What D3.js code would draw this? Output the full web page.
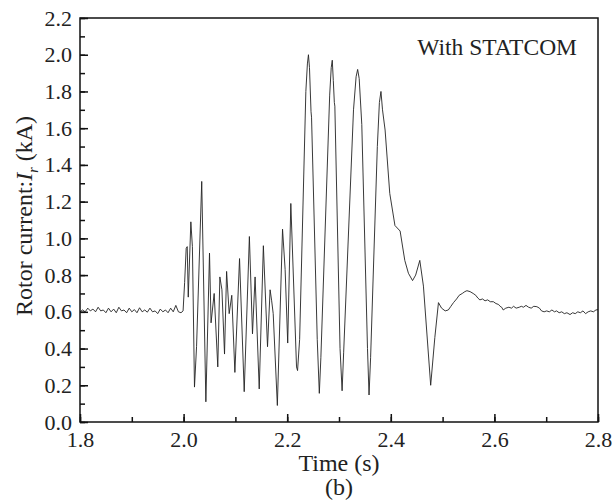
<!DOCTYPE html>
<html><head><meta charset="utf-8">
<script src="https://cdn.jsdelivr.net/npm/d3@7"></script>
<style>body{margin:0;background:#fff}svg{display:block}
svg text{font-family:"Liberation Serif","Times New Roman",Times,"Nimbus Roman","DejaVu Serif",serif !important}</style>
</head><body>
<script>
const xTicks = [1.8, 2.0, 2.2, 2.4, 2.6, 2.8];
const yTicks = [0.0, 0.2, 0.4, 0.6, 0.8, 1.0, 1.2, 1.4, 1.6, 1.8, 2.0, 2.2];
const annotation = "With STATCOM";
const xTitle = "Time (s)";
const caption = "(b)";

const time = [
 1.800,1.805,1.810,1.815,1.820,1.825,1.830,1.835,1.840,1.845,1.850,1.855,1.860,1.865,1.870,1.875,1.880,1.885,1.890,1.895,
 1.900,1.905,1.910,1.915,1.920,1.925,1.930,1.935,1.940,1.945,1.950,1.955,1.960,1.965,1.970,1.975,1.980,1.985,1.990,1.995,1.999,
 2.002,2.005,2.007,2.009,2.014,2.017,2.021,2.025,2.035,2.043,2.050,2.053,2.059,2.066,2.070,2.074,2.079,2.083,2.088,2.093,2.099,2.108,
 2.117,2.127,2.133,2.138,2.146,2.154,2.162,2.167,2.170,2.173,2.181,2.191,2.196,2.201,2.207,2.218,2.220,
 2.224,2.236,2.239,2.241,2.243,2.246,2.247,2.258,2.262,2.265,
 2.282,2.285,2.287,2.289,2.291,2.292,2.302,2.306,2.309,
 2.328,2.333,2.336,2.339,2.344,2.355,2.358,2.361,
 2.374,2.378,2.381,2.384,2.389,2.398,2.408,2.418,2.427,2.434,2.442,2.448,2.456,2.463,2.477,2.485,2.492,
 2.498,2.505,2.511,2.516,2.521,2.527,2.532,2.538,2.543,2.547,2.553,2.559,2.564,2.568,2.572,2.577,2.582,2.587,2.592,2.598,
 2.603,2.608,2.611,2.614,2.617,2.622,2.628,2.633,2.637,2.642,2.648,2.652,2.656,2.661,2.666,2.671,2.676,2.682,2.687,2.691,
 2.696,2.701,2.706,2.711,2.716,2.720,2.725,2.730,2.735,2.740,2.746,2.751,2.756,2.761,2.766,2.771,2.776,2.781,2.786,2.791,2.796,2.800
];
const rotorCurrent = [
 0.600,0.610,0.600,0.620,0.605,0.615,0.600,0.625,0.605,0.610,0.595,0.620,0.600,0.615,0.595,0.625,0.605,0.610,0.595,0.620,
 0.600,0.612,0.595,0.622,0.600,0.610,0.598,0.620,0.600,0.605,0.590,0.615,0.600,0.610,0.595,0.620,0.600,0.635,0.600,0.595,0.605,
 0.760,0.946,0.955,0.680,1.090,0.955,0.190,0.410,1.310,0.110,0.920,0.540,0.700,0.300,0.790,0.720,0.370,0.820,0.590,0.690,0.270,0.890,
 0.165,1.010,0.480,0.790,0.180,0.960,0.410,0.720,0.660,0.590,0.090,1.050,0.830,0.430,1.190,0.300,0.280,
 0.450,1.800,1.950,2.000,1.930,1.690,1.660,0.450,0.156,0.350,
 1.780,1.930,1.970,1.860,1.740,1.720,0.400,0.170,0.380,
 1.700,1.880,1.920,1.870,1.620,0.400,0.147,0.350,
 1.500,1.740,1.800,1.700,1.590,1.245,1.070,1.040,0.880,0.810,0.770,0.800,0.880,0.740,0.200,0.460,0.650,
 0.620,0.605,0.610,0.630,0.650,0.670,0.690,0.700,0.710,0.715,0.710,0.700,0.690,0.675,0.665,0.670,0.660,0.665,0.655,0.655,
 0.645,0.640,0.630,0.625,0.610,0.620,0.625,0.620,0.630,0.620,0.625,0.630,0.625,0.635,0.625,0.620,0.630,0.628,0.620,0.605,
 0.600,0.605,0.600,0.610,0.600,0.605,0.595,0.600,0.590,0.595,0.585,0.595,0.590,0.600,0.595,0.605,0.590,0.600,0.605,0.600,0.610,0.612
];

const W = 613, H = 502;
const m = {left: 80, top: 18, right: 15, bottom: 80};
const svg = d3.select("body").append("svg").attr("width", W).attr("height", H);

const x = d3.scaleLinear().domain([1.8, 2.8]).range([m.left, W - m.right]);
const y = d3.scaleLinear().domain([0, 2.2]).range([H - m.bottom, m.top]);

// data line
const pts = time.map((t, i) => [t, rotorCurrent[i]]);
svg.append("path").datum(pts)
  .attr("fill", "none").attr("stroke", "#222").attr("stroke-width", 0.9)
  .attr("d", d3.line().x(d => x(d[0])).y(d => y(d[1])));

// frame
svg.append("rect").attr("x", x(1.8)).attr("y", y(2.2))
  .attr("width", x(2.8) - x(1.8)).attr("height", y(0) - y(2.2))
  .attr("fill", "none").attr("stroke", "#111").attr("stroke-width", 1.5);

// x axis
const xMinor = d3.range(18, 29).map(v => v / 10);
const gx = svg.append("g").attr("transform", `translate(0,${y(0)})`);
gx.call(d3.axisBottom(x).tickValues(xMinor).tickSize(-5).tickFormat(""))
  .call(g => g.select(".domain").remove());
gx.append("g").call(d3.axisBottom(x).tickValues(xTicks).tickSize(-8).tickPadding(9).tickFormat(d3.format(".1f")))
  .call(g => g.select(".domain").remove());
gx.selectAll("line").attr("stroke", "#111").attr("stroke-width", 1.5);
gx.selectAll("text").attr("font-size", 22).attr("fill", "#222");

// y axis
const yMinor = d3.range(0, 23).map(v => v / 10);
const gy = svg.append("g").attr("transform", `translate(${x(1.8)},0)`);
gy.call(d3.axisLeft(y).tickValues(yMinor).tickSize(-5).tickFormat(""))
  .call(g => g.select(".domain").remove());
gy.append("g").call(d3.axisLeft(y).tickValues(yTicks).tickSize(-8).tickPadding(8).tickFormat(d3.format(".1f")))
  .call(g => g.select(".domain").remove());
gy.selectAll("line").attr("stroke", "#111").attr("stroke-width", 1.5);
gy.selectAll("text").attr("font-size", 22).attr("fill", "#222");

// annotation
svg.append("text").attr("x", 577).attr("y", 55).attr("text-anchor", "end")
  .attr("font-size", 23.5).attr("fill", "#222").text(annotation);

// x title & caption
svg.append("text").attr("x", 339).attr("y", 471).attr("text-anchor", "middle")
  .attr("font-size", 24).attr("fill", "#222").text(xTitle);
svg.append("text").attr("x", 339).attr("y", 495).attr("text-anchor", "middle")
  .attr("font-size", 24).attr("fill", "#222").text(caption);

// y title
const yt = svg.append("text").attr("transform", "translate(32,216) rotate(-90)")
  .attr("text-anchor", "middle").attr("font-size", 24).attr("fill", "#222");
yt.append("tspan").text("Rotor current:");
yt.append("tspan").attr("font-style", "italic").text("I");
yt.append("tspan").attr("font-size", 14).attr("font-style", "italic").attr("dy", 6).text("r");
yt.append("tspan").attr("dy", -6).text(" (kA)");
</script>
</body></html>
